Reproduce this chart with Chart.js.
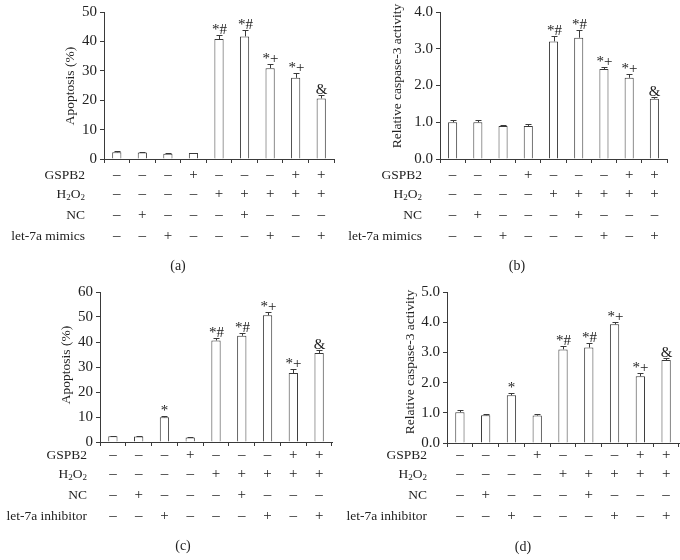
<!DOCTYPE html>
<html>
<head>
<meta charset="utf-8">
<script src="https://cdn.jsdelivr.net/npm/chart.js@4.4.1/dist/chart.umd.min.js"></script>
<style>
    body { margin: 0; background: #fff; width: 680px; height: 560px; position: relative; overflow: hidden; }
    canvas { position: absolute; }
</style>
</head>
<body>
<canvas id="chartA" width="340" height="280" style="left:0;top:0"></canvas>
<canvas id="chartB" width="340" height="280" style="left:340px;top:0"></canvas>
<canvas id="chartC" width="340" height="280" style="left:0;top:280px"></canvas>
<canvas id="chartD" width="340" height="280" style="left:340px;top:280px"></canvas>
<script>
// ============================================
// Data
// ============================================

const GROUPS = ["Control", "NC", "let-7a", "GSPB2", "H2O2", "H2O2+NC", "H2O2+let-7a", "H2O2+GSPB2", "H2O2+GSPB2+let-7a"];

// treatment table (same for every panel)
const GSPB2_ROW = ["–", "–", "–", "+", "–", "–", "–", "+", "+"];
const H2O2_ROW  = ["–", "–", "–", "–", "+", "+", "+", "+", "+"];
const NC_ROW    = ["–", "+", "–", "–", "–", "+", "–", "–", "–"];
const LET7A_ROW = ["–", "–", "+", "–", "–", "–", "+", "–", "+"];

// (a) apoptosis, let-7a mimics
const apoptosisMimics = [2.3, 2.2, 1.8, 2.0, 40.8, 41.7, 30.9, 27.6, 20.6];
const apoptosisMimicsErr = [0.3, 0.2, 0.2, 0.2, 1.3, 2.1, 1.3, 1.7, 1.2];
// (b) caspase-3, let-7a mimics
const caspaseMimics = [1.0, 1.0, 0.9, 0.9, 3.2, 3.3, 2.45, 2.21, 1.64];
const caspaseMimicsErr = [0.07, 0.07, 0.03, 0.05, 0.16, 0.2, 0.06, 0.09, 0.06];
const signifMimics = ["", "", "", "", "*#", "*#", "*+", "*+", "&"];

// (c) apoptosis, let-7a inhibitor
const apoptosisInhibitor = [2.3, 2.2, 9.9, 1.8, 40.6, 42.5, 50.7, 27.6, 35.6];
const apoptosisInhibitorErr = [0.2, 0.2, 0.5, 0.2, 1.0, 1.3, 1.5, 1.8, 1.2];
// (d) caspase-3, let-7a inhibitor
const caspaseInhibitor = [1.02, 0.92, 1.58, 0.91, 3.1, 3.16, 3.93, 2.21, 2.75];
const caspaseInhibitorErr = [0.07, 0.04, 0.06, 0.05, 0.11, 0.16, 0.09, 0.1, 0.07];
const signifInhibitor = ["", "", "*", "", "*#", "*#", "*+", "*+", "&"];

const SERIF = "'Liberation Serif', 'DejaVu Serif', serif";
const INK = "#222";
const LINE = "#3a3a3a";

Chart.defaults.font.family = SERIF;
Chart.defaults.color = INK;

// ============================================
// Panel plugin: error bars, marks, treatment table, titles
// ============================================

function drawH2O2(ctx, right, y) {
    const big = "13.5px " + SERIF;
    const small = "9px " + SERIF;
    const parts = [["H", big, 0], ["2", small, 4], ["O", big, 0], ["2", small, 4]];
    let total = 0;
    parts.forEach((p) => { ctx.font = p[1]; total += ctx.measureText(p[0]).width; });
    let x = right - total;
    ctx.textAlign = "left";
    parts.forEach((p) => {
        ctx.font = p[1];
        ctx.fillText(p[0], x, y + p[2]);
        x += ctx.measureText(p[0]).width;
    });
}

function makePanelPlugin(cfg) {
    return {
        id: "panel",
        afterDraw(chart) {
            const ctx = chart.ctx;
            const xs = chart.scales.x;
            const ys = chart.scales.y;
            ctx.save();

            // error bars (upper half only) and significance marks
            ctx.strokeStyle = LINE;
            ctx.lineWidth = 1;
            ctx.fillStyle = INK;
            ctx.textAlign = "center";
            ctx.textBaseline = "alphabetic";
            cfg.values.forEach((v, i) => {
                const cx = Math.round(xs.getPixelForValue(i)) + 0.5;
                const yBar = ys.getPixelForValue(v);
                const yTop = Math.round(ys.getPixelForValue(v + cfg.errors[i])) + 0.5;
                ctx.beginPath();
                ctx.moveTo(cx, yBar);
                ctx.lineTo(cx, yTop);
                ctx.moveTo(cx - 3, yTop);
                ctx.lineTo(cx + 3, yTop);
                ctx.stroke();
                if (cfg.marks[i]) {
                    ctx.font = "15px " + SERIF;
                    ctx.fillText(cfg.marks[i], cx, yTop - 2);
                }
            });

            // treatment table
            ctx.textBaseline = "middle";
            const rows = [GSPB2_ROW, H2O2_ROW, NC_ROW, LET7A_ROW];
            rows.forEach((row, r) => {
                const y = cfg.rowY[r];
                ctx.font = "13.5px " + SERIF;
                if (r === 1) {
                    drawH2O2(ctx, cfg.labelRight, y);
                } else {
                    ctx.textAlign = "right";
                    ctx.fillText(cfg.rowLabels[r], cfg.labelRight, y);
                }
                ctx.textAlign = "center";
                ctx.font = "15px " + SERIF;
                row.forEach((s, i) => {
                    ctx.fillText(s, xs.getPixelForValue(i), y);
                });
            });

            // caption
            ctx.font = "14px " + SERIF;
            ctx.textAlign = "center";
            ctx.fillText(cfg.caption, cfg.captionX, cfg.captionY);

            // y title
            ctx.font = "13.5px " + SERIF;
            ctx.translate(cfg.titleX, cfg.titleY);
            ctx.rotate(-Math.PI / 2);
            ctx.fillText(cfg.yTitle, 0, 0);
            ctx.restore();
        },
    };
}

// ============================================
// Chart factory
// ============================================

function renderPanel(canvasId, cfg) {
    const ctx = document.getElementById(canvasId).getContext("2d");
    return new Chart(ctx, {
        type: "bar",
        data: {
            labels: GROUPS,
            datasets: [
                {
                    data: cfg.values,
                    backgroundColor: "#fff",
                    borderColor: LINE,
                    borderWidth: 1,
                    barPercentage: 0.36,
                    categoryPercentage: 1,
                },
            ],
        },
        options: {
            responsive: false,
            animation: false,
            layout: {
                padding: { left: 0, top: cfg.top, right: 340 - cfg.right, bottom: 0 },
            },
            plugins: {
                legend: { display: false },
                tooltip: { enabled: false },
            },
            scales: {
                x: {
                    offset: true,
                    grid: { offset: true, drawOnChartArea: false, drawTicks: true, tickLength: 4, color: LINE },
                    border: { color: LINE, width: 1 },
                    ticks: { display: false },
                    afterFit: (s) => { s.height = 280 - cfg.bottom; },
                },
                y: {
                    min: 0,
                    max: cfg.max,
                    grid: { drawOnChartArea: false, drawTicks: true, tickLength: 4, color: LINE },
                    border: { color: LINE, width: 1 },
                    ticks: {
                        stepSize: cfg.step,
                        padding: 3,
                        color: INK,
                        font: { family: SERIF, size: 15 },
                        callback: (v) => (cfg.decimals ? v.toFixed(1) : v),
                    },
                    afterFit: (s) => { s.width = cfg.left; },
                },
            },
        },
        plugins: [makePanelPlugin(cfg)],
    });
}

const ROW_Y = [175, 194, 215, 236];

renderPanel("chartA", {
    values: apoptosisMimics, errors: apoptosisMimicsErr, marks: signifMimics,
    max: 50, step: 10, decimals: false,
    left: 104, right: 334, top: 7, bottom: 159,
    rowLabels: ["GSPB2", "H2O2", "NC", "let-7a mimics"], rowY: ROW_Y, labelRight: 85,
    caption: "(a)", captionX: 178, captionY: 266,
    yTitle: "Apoptosis (%)", titleX: 70, titleY: 86,
});

renderPanel("chartB", {
    values: caspaseMimics, errors: caspaseMimicsErr, marks: signifMimics,
    max: 4, step: 1, decimals: true,
    left: 100, right: 327, top: 5, bottom: 159,
    rowLabels: ["GSPB2", "H2O2", "NC", "let-7a mimics"], rowY: ROW_Y, labelRight: 82,
    caption: "(b)", captionX: 177, captionY: 266,
    yTitle: "Relative caspase-3 activity", titleX: 57, titleY: 76,
});

renderPanel("chartC", {
    values: apoptosisInhibitor, errors: apoptosisInhibitorErr, marks: signifInhibitor,
    max: 60, step: 10, decimals: false,
    left: 100, right: 332, top: 8, bottom: 162,
    rowLabels: ["GSPB2", "H2O2", "NC", "let-7a inhibitor"], rowY: ROW_Y, labelRight: 87,
    caption: "(c)", captionX: 183, captionY: 266,
    yTitle: "Apoptosis (%)", titleX: 66, titleY: 85,
});

renderPanel("chartD", {
    values: caspaseInhibitor, errors: caspaseInhibitorErr, marks: signifInhibitor,
    max: 5, step: 1, decimals: true,
    left: 107, right: 339, top: 8, bottom: 163,
    rowLabels: ["GSPB2", "H2O2", "NC", "let-7a inhibitor"], rowY: ROW_Y, labelRight: 87,
    caption: "(d)", captionX: 183, captionY: 267,
    yTitle: "Relative caspase-3 activity", titleX: 70, titleY: 82,
});
</script>
</body>
</html>
